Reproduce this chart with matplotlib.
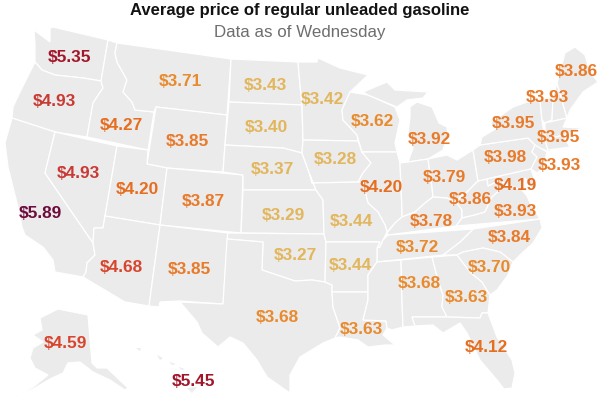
import matplotlib
matplotlib.use('Agg')
import matplotlib.pyplot as plt
from matplotlib.patches import Polygon

plt.rcParams['font.family'] = ['Liberation Sans', 'DejaVu Sans']

TITLE = 'Average price of regular unleaded gasoline'
SUBTITLE = 'Data as of Wednesday'

# price labels
prices = [5.35, 4.93, 5.89, 4.93, 4.27, 3.71, 3.85, 4.20, 4.68, 3.87, 3.85,
          3.43, 3.40, 3.37, 3.29, 3.27, 3.68, 3.42, 3.28, 3.44, 3.44, 3.63,
          3.62, 4.20, 3.92, 3.79, 3.86, 3.78, 3.72, 3.68, 3.63, 3.70, 3.84,
          3.93, 4.19, 3.98, 3.93, 3.95, 3.95, 3.93, 3.86, 4.12, 4.59, 5.45]
label_x = [70, 54, 40, 78, 121, 180, 187, 137, 121, 203, 189,
           265, 266, 272, 283, 295, 277, 322, 335, 351, 350, 361,
           372, 381, 429, 444, 470, 431, 417, 419, 466, 489, 509,
           515, 515, 505, 559, 513, 558, 547, 576, 486, 65, 193]
label_y = [58, 102, 214, 173, 126, 81, 141, 189, 268, 202, 270,
           85, 127, 170, 215, 256, 317, 100, 160, 222, 265, 330,
           122, 188, 140, 178, 200, 221, 247, 283, 297, 267, 238,
           212, 185, 157, 165, 124, 137, 97, 72, 348, 343, 381]

# state outlines, traced in image pixels
states = {
    'WA': [(34, 30), (42, 36), (50, 42), (50, 28), (53, 27), (108, 40), (101, 81), (83, 78), (55, 75), (42, 70), (35, 62), (35, 45)],
    'OR': [(35, 62), (42, 70), (55, 75), (83, 78), (101, 81), (103, 88), (93, 103), (87, 137), (55, 132), (12, 118), (13, 107), (22, 88), (30, 72)],
    'CA': [(12, 118), (55, 132), (45, 173), (93, 243), (95, 255), (87, 263), (86, 272), (83, 277), (55, 272), (53, 260), (43, 247), (25, 235), (22, 227), (18, 207), (13, 187), (8, 167), (5, 143)],
    'NV': [(55, 132), (117, 146), (105, 216), (103, 228), (94, 228), (93, 243), (45, 173)],
    'ID': [(108, 40), (117, 43), (115, 53), (117, 62), (127, 80), (123, 92), (132, 102), (135, 110), (154, 112), (148, 150), (87, 137), (93, 103), (103, 88), (101, 81)],
    'MT': [(117, 43), (231, 59), (227, 115), (156, 107), (154, 112), (135, 110), (132, 102), (123, 92), (127, 80), (117, 62), (115, 53)],
    'WY': [(156, 107), (227, 115), (223, 172), (167, 168), (147, 164)],
    'UT': [(117, 146), (148, 150), (147, 164), (167, 168), (160, 225), (105, 216)],
    'AZ': [(105, 216), (160, 225), (149, 306), (125, 302), (83, 277), (86, 272), (87, 263), (95, 255), (93, 243), (94, 228), (103, 228)],
    'CO': [(167, 168), (243, 175), (241, 233), (160, 225)],
    'NM': [(160, 225), (228, 233), (223, 304), (180, 301), (160, 302), (159, 307), (149, 306)],
    'ND': [(231, 59), (298, 62), (300, 85), (302, 105), (229, 102)],
    'SD': [(229, 102), (302, 105), (303, 140), (302, 153), (283, 148), (225, 145)],
    'NE': [(225, 145), (283, 148), (302, 153), (310, 175), (316, 190), (243, 190), (243, 175), (223, 172)],
    'KS': [(243, 190), (316, 190), (323, 200), (324, 234), (241, 233)],
    'OK': [(228, 233), (324, 234), (326, 242), (325, 282), (312, 280), (295, 281), (277, 275), (262, 270), (263, 242), (227, 239)],
    'TX': [(227, 239), (263, 242), (262, 270), (277, 275), (295, 281), (312, 280), (325, 282), (332, 285), (332, 292), (333, 307), (340, 328), (335, 338), (323, 343), (300, 357), (290, 375), (290, 393), (267, 377), (257, 360), (243, 343), (230, 337), (218, 347), (202, 333), (197, 322), (180, 302), (223, 304)],
    'MN': [(298, 62), (317, 62), (318, 58), (340, 68), (368, 75), (350, 92), (342, 110), (343, 120), (357, 135), (358, 141), (303, 140), (302, 105), (300, 85)],
    'IA': [(303, 140), (358, 141), (362, 152), (371, 163), (363, 173), (358, 182), (312, 183), (310, 175), (302, 153)],
    'WI': [(350, 92), (368, 95), (395, 107), (400, 120), (395, 143), (397, 152), (362, 152), (357, 135), (343, 120), (342, 110)],
    'MI_U': [(363, 92), (387, 82), (395, 90), (428, 92), (423, 98), (407, 100), (397, 107), (368, 95)],
    'MI_L': [(410, 107), (417, 102), (432, 107), (439, 123), (447, 127), (448, 135), (443, 150), (428, 159), (408, 162), (413, 148), (408, 133), (410, 117)],
    'IL': [(362, 152), (397, 152), (400, 163), (402, 210), (402, 217), (395, 223), (387, 232), (385, 225), (378, 212), (368, 203), (363, 183), (358, 182), (363, 173), (371, 163)],
    'IN': [(400, 163), (408, 162), (428, 159), (432, 187), (433, 197), (425, 203), (415, 212), (402, 217), (402, 210)],
    'OH': [(428, 159), (447, 155), (457, 160), (473, 150), (478, 181), (467, 192), (460, 197), (457, 203), (447, 198), (433, 197), (432, 187)],
    'MO': [(312, 183), (358, 182), (363, 183), (368, 203), (378, 212), (385, 225), (387, 232), (383, 240), (380, 247), (377, 248), (380, 242), (326, 242), (324, 234), (323, 200), (316, 190), (310, 175)],
    'KY': [(387, 233), (395, 223), (402, 217), (415, 212), (425, 203), (433, 197), (447, 198), (457, 203), (462, 210), (462, 218), (456, 226), (388, 235)],
    'WV': [(478, 181), (487, 179), (488, 186), (500, 180), (507, 185), (500, 190), (492, 197), (485, 212), (475, 215), (462, 218), (462, 210), (457, 203), (460, 197), (467, 192)],
    'PA': [(473, 150), (480, 145), (528, 138), (535, 145), (532, 152), (537, 157), (531, 169), (478, 181)],
    'NY': [(480, 145), (482, 137), (497, 128), (490, 123), (513, 107), (527, 102), (540, 100), (542, 120), (545, 140), (548, 150), (563, 137), (550, 152), (537, 147), (528, 138)],
    'NJ': [(535, 145), (547, 152), (543, 168), (537, 173), (531, 169), (537, 157), (532, 152)],
    'MD': [(487, 179), (531, 169), (537, 187), (533, 190), (525, 178), (522, 190), (507, 185), (500, 180), (488, 186)],
    'VA': [(456, 226), (462, 218), (475, 215), (485, 212), (492, 197), (500, 190), (507, 185), (522, 190), (527, 196), (531, 205), (540, 219)],
    'NC': [(473, 229), (540, 219), (542, 228), (533, 243), (520, 255), (513, 262), (500, 252), (483, 248), (463, 252), (457, 255), (443, 255), (460, 242)],
    'TN': [(388, 235), (473, 229), (460, 242), (443, 255), (377, 262), (377, 248), (380, 247), (383, 240)],
    'AR': [(326, 242), (380, 242), (377, 248), (377, 262), (368, 275), (368, 292), (332, 292), (332, 285), (325, 282)],
    'LA': [(332, 292), (368, 292), (368, 300), (363, 320), (386, 321), (387, 328), (383, 335), (395, 345), (385, 345), (368, 347), (358, 340), (340, 337), (335, 338), (340, 328), (333, 307)],
    'MS': [(377, 262), (401, 260), (402, 300), (403, 327), (392, 330), (387, 328), (386, 321), (363, 320), (368, 300), (368, 275)],
    'AL': [(401, 260), (432, 257), (438, 280), (443, 295), (442, 307), (447, 317), (412, 317), (415, 326), (403, 327), (402, 300)],
    'GA': [(432, 257), (457, 255), (470, 272), (482, 282), (490, 295), (488, 313), (482, 313), (480, 318), (447, 317), (442, 307), (443, 295), (438, 280)],
    'SC': [(457, 255), (463, 252), (483, 248), (500, 252), (513, 262), (508, 275), (497, 290), (490, 295), (482, 282), (470, 272)],
    'FL': [(412, 317), (447, 317), (480, 318), (482, 313), (488, 313), (497, 337), (512, 360), (515, 373), (512, 388), (504, 389), (497, 380), (480, 360), (467, 333), (460, 323), (443, 333), (433, 325), (415, 326)],
    'VT': [(540, 100), (553, 97), (552, 120), (545, 123), (542, 120)],
    'NH': [(553, 97), (557, 83), (567, 118), (545, 123), (552, 120)],
    'ME': [(557, 83), (565, 53), (575, 47), (585, 55), (590, 72), (598, 82), (583, 92), (570, 110), (567, 118)],
    'MA': [(545, 123), (567, 118), (563, 127), (583, 128), (563, 135), (545, 140)],
    'CT': [(545, 140), (563, 135), (570, 147), (548, 150)],
    'AK': [(40, 318), (58, 309), (88, 315), (92, 363), (97, 368), (107, 368), (128, 388), (125, 390), (110, 380), (93, 372), (80, 362), (68, 363), (63, 373), (52, 378), (33, 389), (15, 397), (33, 387), (48, 375), (35, 368), (30, 358), (33, 348), (43, 342), (33, 335), (42, 330)],
}
hawaii = [
    [(187, 388), (197, 387), (192, 393)],
    [(136, 348), (141, 348), (140, 351)],
    [(157, 355), (163, 358), (160, 360)],
    [(169, 362), (176, 364), (172, 365)],
    [(179, 367), (185, 369), (181, 370)],
]


def price_colour(p):
    if p < 3.5:
        return '#e2b65c'
    if p < 3.75:
        return '#e88a2e'
    if p < 4.0:
        return '#e87a2a'
    if p < 4.3:
        return '#e56e20'
    if p < 4.8:
        return '#d8452f'
    if p < 5.0:
        return '#c93a34'
    if p < 5.6:
        return '#a2162a'
    return '#6e0b3d'


fig = plt.figure(figsize=(6, 4), dpi=100)
ax = fig.add_axes([0, 0, 1, 1])
ax.set_xlim(0, 600)
ax.set_ylim(400, 0)
ax.axis('off')

for name, pts in states.items():
    ax.add_patch(Polygon(pts, closed=True, facecolor='#ebebeb',
                         edgecolor='white', linewidth=0.9))
for pts in hawaii:
    ax.add_patch(Polygon(pts, closed=True, facecolor='#ededed',
                         edgecolor='none'))

for p, x, y in zip(prices, label_x, label_y):
    ax.text(x, y, '${0:.2f}'.format(p), color=price_colour(p), fontsize=12.4,
            fontweight='bold', ha='center', va='center')

ax.text(300, 10, TITLE, color='#121212', fontsize=12.0, fontweight='bold',
        ha='center', va='center')
ax.text(300, 33, SUBTITLE, color='#6e6e6e', fontsize=12.2, ha='center',
        va='center')

fig.savefig('out.png', dpi=100)
